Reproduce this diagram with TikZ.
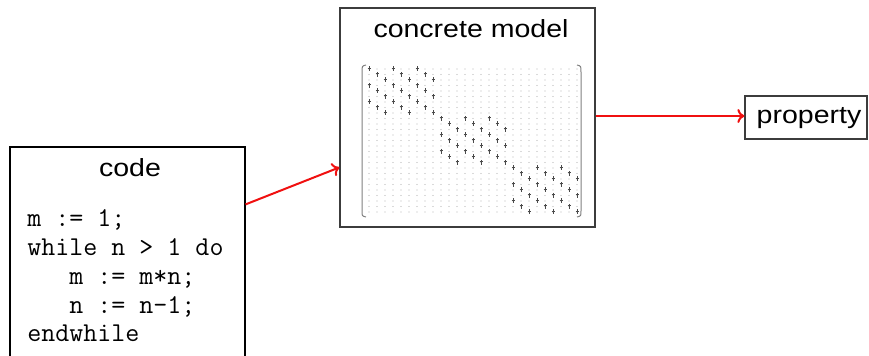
\documentclass[tikz,border=0pt]{standalone}
\usepackage{fontspec}
\setmainfont{Liberation Sans}
\usepackage{tikz}
\usetikzlibrary{arrows.meta}
\definecolor{mdborder}{HTML}{3C3C3C}
\definecolor{mddot}{HTML}{B4B4B4}
\definecolor{mdentry}{HTML}{4A4A4A}
\definecolor{mdarrow}{HTML}{F01010}
\newcommand{\widetext}[1]{\scalebox{1.15}[1]{#1}}
\tikzset{
  panel/.style={draw=mdborder,line width=0.6pt,rectangle,inner sep=0pt},
  paneltitle/.style={font=\fontsize{12.4}{14}\selectfont,inner sep=0pt,anchor=base},
  codeline/.style={font=\ttfamily\fontsize{13.6}{14.5}\selectfont,inner sep=0pt,anchor=base west},
  flow/.style={draw=mdarrow,line width=1pt,-{To[length=3.5pt,width=7pt]}}
}

\begin{document}
\begin{tikzpicture}[x=0.5pt,y=-0.5pt]
  \useasboundingbox (0,0) rectangle (869,356);
  % boxes
  \node[panel,draw=black,minimum width=117.5pt,minimum height=116pt] (code) at (127.5,263) {};
  \node[panel,minimum width=127.5pt,minimum height=109.5pt] (model) at (467.5,117.5) {};
  \node[panel,minimum width=61pt,minimum height=21.5pt] (prop) at (806,117.5) {};
  \node[paneltitle] (proptext) at (809,124) {\widetext{property}};
  \node[paneltitle] (codetitle) at (130,177) {\widetext{code}};
  \node[paneltitle] (modeltitle) at (471,38) {\widetext{concrete model}};
  % program text
  \foreach \l/\txt in {0/{m := 1;},1/{while n > 1 do},2/{\ \ \ m := m*n;},3/{\ \ \ n := n-1;},4/{endwhile}}{
    \node[codeline] (line\l) at (27,{227+28.75*\l}) {\txt};
  }
  % matrix of the model: 27x27, three diagonal blocks
  \foreach \r in {0,...,26}{
    \foreach \c in {0,...,26}{\fill[mddot] ({369+8*\c},{69+5.5*\r}) circle (0.35pt);}
  }
  \foreach \b in {0,1,2}{
    \foreach \r in {0,...,8}{
      \foreach \k in {0,1,2}{
        \pgfmathtruncatemacro\cc{9*\b+mod(\r,3)+3*\k}
        \pgfmathtruncatemacro\rr{9*\b+\r}
        \draw[mdentry,line width=0.5pt] ({369+8*\cc},{66.5+5.5*\rr}) -- ({369+8*\cc},{71.5+5.5*\rr});
        \draw[mdentry,line width=0.4pt] ({367.5+8*\cc},{68+5.5*\rr}) -- ({370.5+8*\cc},{68+5.5*\rr});
      }
    }
  }
  \draw[gray,line width=0.5pt] (366,65) .. controls (362,66) .. (362,72) -- (362,211) .. controls (362,216) .. (366,217);
  \draw[gray,line width=0.5pt] (577,65) .. controls (581,66) .. (581,72) -- (581,211) .. controls (581,216) .. (577,217);
  % arrows
  \draw[flow] ([yshift=-29pt]code.north east) -- ([yshift=-80pt]model.north west);
  \draw[flow] ([yshift=0.75pt]model.east) -- ([yshift=0.75pt]prop.west);
\end{tikzpicture}
\end{document}
